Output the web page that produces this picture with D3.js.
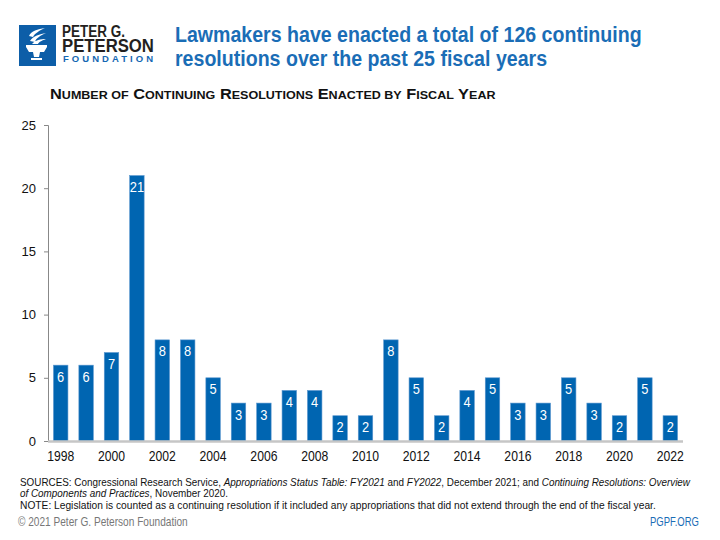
<!DOCTYPE html>
<html>
<head>
<meta charset="utf-8">
<script src="https://cdn.jsdelivr.net/npm/d3@7"></script>
<style>
  body { margin: 0; background: #fff; }
  svg { display: block; }
  text { font-family: "Liberation Sans", Arial, sans-serif; }
</style>
</head>
<body>
<svg id="chart" width="720" height="540"></svg>
<script>
// fiscal years and number of CRs enacted
const years = [1998, 1999, 2000, 2001, 2002, 2003, 2004, 2005, 2006, 2007, 2008, 2009, 2010,
  2011, 2012, 2013, 2014, 2015, 2016, 2017, 2018, 2019, 2020, 2021, 2022];
const counts = [6, 6, 7, 21, 8, 8, 5, 3, 3, 4, 4, 2, 2, 8, 5, 2, 4, 5, 3, 3, 5, 3, 2, 5, 2];
const yTicks = [0, 5, 10, 15, 20, 25];
const xLabels = [1998, 2000, 2002, 2004, 2006, 2008, 2010, 2012, 2014, 2016, 2018, 2020, 2022];

const titleLines = ['Lawmakers have enacted a total of 126 continuing', 'resolutions over the past 25 fiscal years'];
const subtitle = 'Number of Continuing Resolutions Enacted by Fiscal Year';

const blue = '#0065b1';
const svg = d3.select('#chart');

// squeeze/stretch a text horizontally so it spans `width` px starting at x0
function fit(sel, x0, width, k) {
  if (k == null) k = width / sel.node().getBBox().width;
  sel.attr('x', 0).attr('transform', `translate(${x0},0) scale(${k},1)`);
  sel.selectAll('tspan[x]').attr('x', 0);
  return k;
}

// ---- logo ----
const logo = svg.append('g');
logo.append('rect').attr('x', 19).attr('y', 25).attr('width', 37).attr('height', 41).attr('fill', '#0d5ea8');
logo.append('path')
  .attr('d', 'M29,36 C31,31 38,29 45,28 C39,31 35,33 33,37 Z M30,41 C33,36 40,34 46,33 C40,36 36,38 35,42 Z M32,44 C35,40 41,39 46,39 C41,41 39,42 38,44 Z')
  .attr('fill', '#fff');
logo.append('path')
  .attr('d', 'M26,45 L47,45 L47,47 L44,52 L29,52 L26,47 Z M33,52 L40,52 L39,57 L34,57 Z M31,58 L42,58 L42,60 L31,60 Z')
  .attr('fill', '#fff');
fit(logo.append('text').attr('y', 37).attr('font-weight', 'bold')
  .attr('font-size', 17).attr('fill', '#231f20').text('PETER G.'), 62, 63);
fit(logo.append('text').attr('y', 52).attr('font-weight', 'bold')
  .attr('font-size', 18.5).attr('fill', '#231f20').text('PETERSON'), 62, 92);
logo.append('text').attr('x', 63).attr('y', 62)
  .attr('font-size', 9.5).attr('font-weight', 'bold').attr('fill', '#1467b3')
  .attr('textLength', 90).attr('lengthAdjust', 'spacing').text('FOUNDATION');

// ---- title ----
const title = svg.append('g').attr('font-weight', 'bold').attr('font-size', 22).attr('fill', '#1a6db6');
const t1 = title.append('text').attr('y', 42).text(titleLines[0]);
const tk = fit(t1, 175, 467);
fit(title.append('text').attr('y', 66).text(titleLines[1]), 175, 0, tk);

// ---- subtitle in small caps ----
const sub = svg.append('text').attr('y', 99).attr('font-weight', 'bold').attr('fill', '#111');
subtitle.split(' ').forEach((w, i) => {
  if (!['of', 'by'].includes(w)) {
    sub.append('tspan').attr('font-size', 15).text((i ? ' ' : '') + w[0]);
    sub.append('tspan').attr('font-size', 11.5).text(w.slice(1).toUpperCase());
  } else {
    sub.append('tspan').attr('font-size', 11.5).text(' ' + w.toUpperCase());
  }
});
fit(sub, 50, 447);

// ---- chart ----
const x = d3.scaleBand().domain(years).range([48, 683]).paddingInner(0.43).paddingOuter(0.215);
const y = d3.scaleLinear().domain([0, 25]).range([441, 125]);

svg.append('g')
  .attr('transform', 'translate(48,0)')
  .call(d3.axisLeft(y).tickValues(yTicks).tickSize(4).tickPadding(8))
  .call(g => g.select('.domain').attr('stroke', '#888'))
  .call(g => g.selectAll('.tick line').attr('stroke', '#888'))
  .call(g => g.selectAll('.tick text').attr('font-family', '"Liberation Sans", Arial, sans-serif')
    .attr('font-size', 13).attr('fill', '#111'));

svg.append('g').selectAll('rect').data(counts).join('rect')
  .attr('x', (d, i) => x(years[i]))
  .attr('y', d => y(d))
  .attr('width', x.bandwidth())
  .attr('height', d => y(0) - y(d))
  .attr('fill', blue)
  .attr('stroke', '#5b97cf').attr('stroke-width', 0.6);

svg.append('g').selectAll('text').data(counts).join('text')
  .attr('x', (d, i) => x(years[i]) + x.bandwidth() / 2)
  .attr('y', d => y(d) + 16.5)
  .attr('text-anchor', 'middle')
  .attr('font-size', 14).attr('fill', '#fff')
  .attr('transform', (d, i) => {
    const cx = x(years[i]) + x.bandwidth() / 2;
    return `translate(${cx},0) scale(0.92,1) translate(${-cx},0)`;
  })
  .text(d => d);

// baseline
svg.append('line').attr('x1', 48).attr('x2', 683).attr('y1', y(0) + 0.5).attr('y2', y(0) + 0.5)
  .attr('stroke', '#c6c6c6').attr('stroke-width', 2.5);

const xAxis = svg.append('g')
  .attr('transform', `translate(0,${y(0)})`)
  .call(d3.axisBottom(x).tickValues(xLabels).tickSize(0).tickPadding(10));
xAxis.select('.domain').remove();
xAxis.selectAll('.tick text').attr('font-family', '"Liberation Sans", Arial, sans-serif')
  .attr('font-size', 14.5).attr('fill', '#111').attr('transform', 'scale(0.84,1)');

// ---- footer ----
const foot = svg.append('g').attr('font-size', 10.5).attr('fill', '#111');
const l1 = foot.append('text').attr('y', 486);
[['SOURCES: Congressional Research Service, ', 0], ['Appropriations Status Table: FY2021', 1], [' and ', 0],
 ['FY2022', 1], [', December 2021; and ', 0], ['Continuing Resolutions: Overview', 1]]
  .forEach(([t, it]) => l1.append('tspan').attr('font-style', it ? 'italic' : null).text(t));
const fk = fit(l1, 20, 672);
const l2 = foot.append('text').attr('y', 497.5);
l2.append('tspan').attr('font-style', 'italic').text('of Components and Practices');
l2.append('tspan').text(', November 2020.');
fit(l2, 20, 0, fk);
fit(foot.append('text').attr('y', 509)
  .text('NOTE: Legislation is counted as a continuing resolution if it included any appropriations that did not extend through the end of the fiscal year.'), 20, 636);

fit(svg.append('text').attr('y', 526).attr('font-size', 12).attr('fill', '#777')
  .text('\u00a9 2021 Peter G. Peterson Foundation'), 18, 170);
fit(svg.append('text').attr('y', 526).attr('font-size', 12).attr('fill', '#1a6db6')
  .text('PGPF.ORG'), 650, 49);
</script>
</body>
</html>
